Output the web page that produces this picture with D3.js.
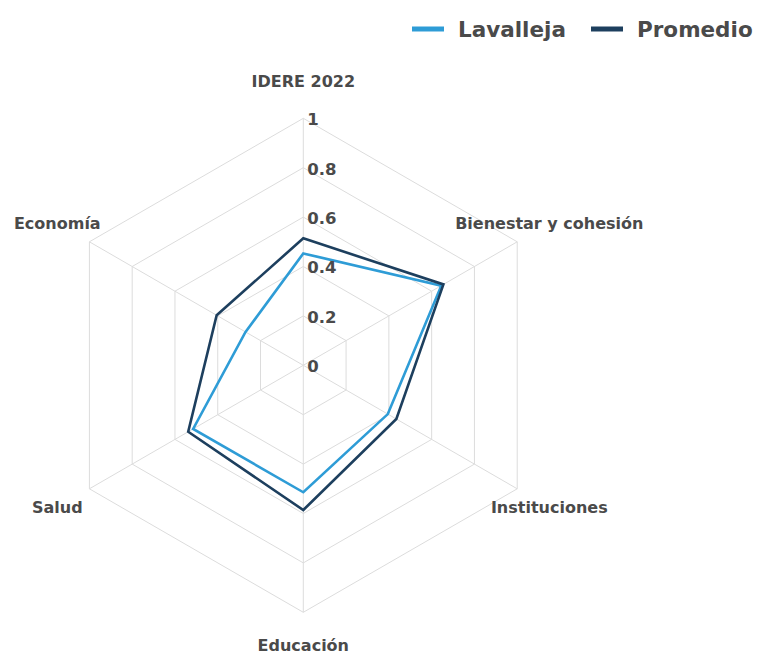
<!DOCTYPE html>
<html>
<head>
<meta charset="utf-8">
<script src="https://cdn.jsdelivr.net/npm/d3@7"></script>
<style>
  body { margin: 0; background: #fff; }
  text { font-family: "DejaVu Sans", "Open Sans", sans-serif; font-weight: 700; fill: #4a4a4a; }
</style>
</head>
<body>
<div id="chart"></div>
<script>
const axesLabels = ["IDERE 2022", "Bienestar y cohesión", "Instituciones", "Educación", "Salud", "Economía"];
const lavalleja = [0.453, 0.645, 0.395, 0.514, 0.515, 0.27];
const promedio = [0.514, 0.655, 0.435, 0.586, 0.538, 0.405];
const tickValues = [0, 0.2, 0.4, 0.6, 0.8, 1];
const seriesNames = ["Lavalleja", "Promedio"];
const seriesColors = ["#2e9cd6", "#1d3f5e"];

const width = 760, height = 655;
const cx = 303.3, cy = 365.3;
const radius = 247;

const svg = d3.select("#chart")
  .append("svg")
  .attr("width", width)
  .attr("height", height);

const r = d3.scaleLinear().domain([0, 1]).range([0, radius]);
const angle = (i) => (i * 2 * Math.PI) / axesLabels.length;

// point on axis i at value v
function pt(i, v) {
  return [cx + r(v) * Math.sin(angle(i)), cy - r(v) * Math.cos(angle(i))];
}

const g = svg.append("g");

// hexagon grid
tickValues.filter((t) => t > 0).forEach((t) => {
  g.append("polygon")
    .attr("points", axesLabels.map((d, i) => pt(i, t).join(",")).join(" "))
    .attr("fill", "none")
    .attr("stroke", "#dcdcdc")
    .attr("stroke-width", 1);
});

// spokes
g.selectAll("line.spoke")
  .data(axesLabels)
  .enter()
  .append("line")
  .attr("class", "spoke")
  .attr("x1", cx)
  .attr("y1", cy)
  .attr("x2", (d, i) => pt(i, 1)[0])
  .attr("y2", (d, i) => pt(i, 1)[1])
  .attr("stroke", "#dcdcdc")
  .attr("stroke-width", 1);

// series
const line = d3.line().curve(d3.curveLinearClosed);
[lavalleja, promedio].forEach((values, s) => {
  g.append("path")
    .attr("d", line(values.map((v, i) => pt(i, v))))
    .attr("fill", "none")
    .attr("stroke", seriesColors[s])
    .attr("stroke-width", 2.6)
    .attr("stroke-linejoin", "miter");
});

// tick labels
g.selectAll("text.tick")
  .data(tickValues)
  .enter()
  .append("text")
  .attr("class", "tick")
  .attr("x", cx + 4)
  .attr("y", (d) => cy - r(d))
  .attr("dy", "0.42em")
  .attr("font-size", 16.5)
  .text((d) => d3.format("")(d));

// axis labels
g.selectAll("text.axis-label")
  .data(axesLabels)
  .enter()
  .append("text")
  .attr("class", "axis-label")
  .attr("x", (d, i) => pt(i, 1.15)[0])
  .attr("y", (d, i) => pt(i, 1.15)[1] + (i === 3 ? -4 : 0))
  .attr("dy", "0.36em")
  .attr("text-anchor", "middle")
  .attr("font-size", 16)
  .text((d) => d);

// legend
const legendX = [412, 591];
const legend = svg.append("g");
seriesNames.forEach((name, i) => {
  legend.append("line")
    .attr("x1", legendX[i])
    .attr("x2", legendX[i] + 32)
    .attr("y1", 29)
    .attr("y2", 29)
    .attr("stroke", seriesColors[i])
    .attr("stroke-width", 5);
  legend.append("text")
    .attr("x", legendX[i] + 46)
    .attr("y", 29)
    .attr("dy", "0.36em")
    .attr("font-size", 21.5)
    .text(name);
});
</script>
</body>
</html>
